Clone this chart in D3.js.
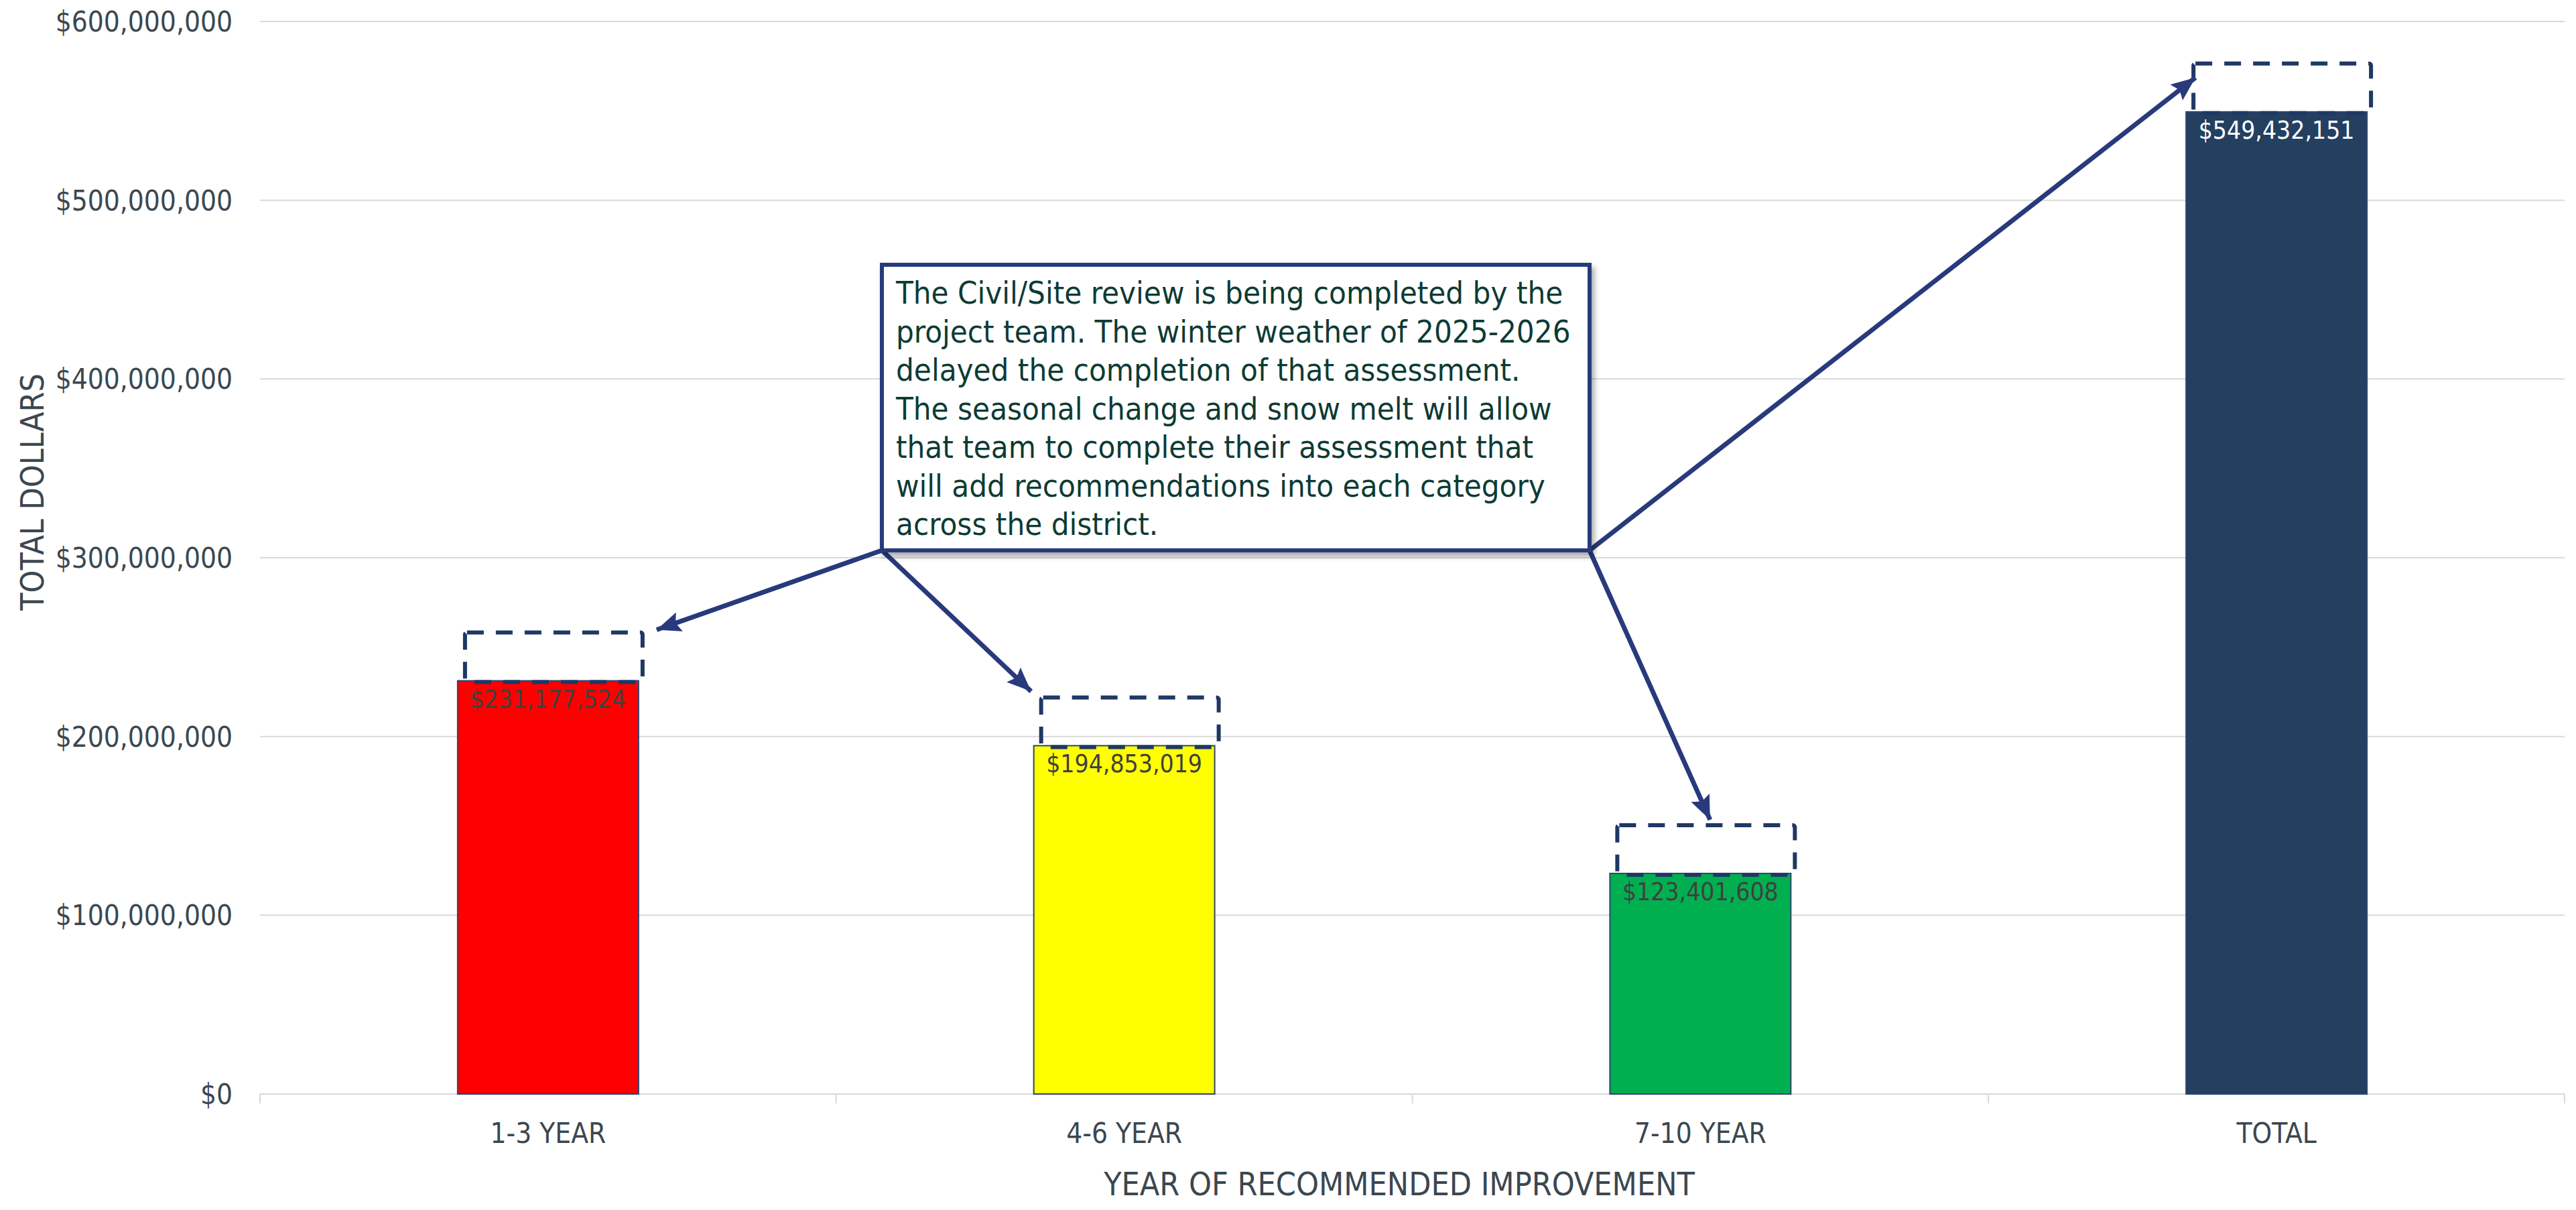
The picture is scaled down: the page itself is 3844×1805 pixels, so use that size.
<!DOCTYPE html>
<html>
<head>
<meta charset="utf-8">
<script src="https://cdn.jsdelivr.net/npm/d3@7"></script>
<style>
  body { margin: 0; background: #fff; }
  text { font-family: 'DejaVu Sans Condensed', 'DejaVu Sans', sans-serif; font-stretch: condensed; }
</style>
</head>
<body>
<script>
// data
var categories = ["1-3 YEAR", "4-6 YEAR", "7-10 YEAR", "TOTAL"];
var totals = [231177524, 194853019, 123401608, 549432151];
var barColors = ["#ff0000", "#ffff00", "#00b050", "#243f60"];
var labelColors = ["#404040", "#404040", "#404040", "#ffffff"];
// dashed boxes on top of each bar (civil/site still to be added)
var pending = [27000000, 27000000, 27000000, 27000000];
var yTicks = [0, 100000000, 200000000, 300000000, 400000000, 500000000, 600000000];
var noteLines = [
  "The Civil/Site review is being completed by the",
  "project team. The winter weather of 2025-2026",
  "delayed the completion of that assessment.",
  "The seasonal change and snow melt will allow",
  "that team to complete their assessment that",
  "will add recommendations into each category",
  "across the district."
];

var W = 3844, H = 1805;
var margin = {top: 32, right: 17, bottom: 173, left: 388};
var axisColor = "#3b4750";
var navy = "#283a7c";

var svg = d3.select("body").append("svg")
  .attr("width", W)
  .attr("height", H);

var x = d3.scaleBand()
  .domain(categories)
  .range([margin.left, W - margin.right])
  .paddingInner(0.686)
  .paddingOuter(0.343);

var y = d3.scaleLinear()
  .domain([0, 600000000])
  .range([H - margin.bottom, margin.top]);

var money = d3.format("$,.0f");
var bw = x.bandwidth();

// gridlines
svg.append("g").selectAll("line").data(yTicks).enter().append("line")
  .attr("x1", margin.left).attr("x2", W - margin.right)
  .attr("y1", function(d){ return y(d); })
  .attr("y2", function(d){ return y(d); })
  .attr("stroke", "#d9d9d9")
  .attr("stroke-width", 2);

// y tick labels
svg.append("g").selectAll("text").data(yTicks).enter().append("text")
  .attr("x", margin.left - 41)
  .attr("y", function(d){ return y(d); })
  .attr("dy", "0.36em")
  .attr("text-anchor", "end")
  .attr("font-size", 42)
  .attr("fill", axisColor)
  .text(function(d){ return money(d); });

// category tick marks between bands
var bounds = d3.range(categories.length + 1).map(function(i){ return margin.left + i * x.step(); });
svg.append("g").selectAll("line").data(bounds).enter().append("line")
  .attr("x1", function(d){ return d; }).attr("x2", function(d){ return d; })
  .attr("y1", y(0)).attr("y2", y(0) + 14)
  .attr("stroke", "#d9d9d9")
  .attr("stroke-width", 2);

// x labels
svg.append("g").selectAll("text").data(categories).enter().append("text")
  .attr("x", function(d){ return x(d) + bw / 2; })
  .attr("y", y(0) + 73)
  .attr("text-anchor", "middle")
  .attr("font-size", 42)
  .attr("fill", axisColor)
  .text(function(d){ return d; });

// axis titles
svg.append("text")
  .attr("x", 2088).attr("y", y(0) + 151)
  .attr("text-anchor", "middle")
  .attr("font-size", 48)
  .attr("fill", axisColor)
  .text("YEAR OF RECOMMENDED IMPROVEMENT");

svg.append("text")
  .attr("transform", "translate(65," + 734 + ") rotate(-90)")
  .attr("text-anchor", "middle")
  .attr("font-size", 48)
  .attr("fill", axisColor)
  .text("TOTAL DOLLARS");

// bars
svg.append("g").selectAll("rect").data(totals).enter().append("rect")
  .attr("x", function(d, i){ return x(categories[i]); })
  .attr("y", function(d){ return y(d); })
  .attr("width", bw)
  .attr("height", function(d){ return y(0) - y(d); })
  .attr("fill", function(d, i){ return barColors[i]; })
  .attr("stroke", "#2f4470")
  .attr("stroke-width", 2);

// data labels
svg.append("g").selectAll("text").data(totals).enter().append("text")
  .attr("x", function(d, i){ return x(categories[i]) + bw / 2; })
  .attr("y", function(d){ return y(d) + 40; })
  .attr("text-anchor", "middle")
  .attr("font-size", 37)
  .attr("fill", function(d, i){ return labelColors[i]; })
  .text(function(d){ return money(d); });

// dashed boxes
var boxes = totals.map(function(v, i){
  return {
    x0: x(categories[i]) + 11,
    x1: x(categories[i]) + bw + 6,
    top: y(v + pending[i]),
    bot: y(v) + 2
  };
});
svg.append("g").selectAll("rect").data(boxes).enter().append("rect")
  .attr("x", function(d){ return d.x0; })
  .attr("y", function(d){ return d.top; })
  .attr("width", function(d){ return d.x1 - d.x0; })
  .attr("height", function(d){ return d.bot - d.top; })
  .attr("rx", 3)
  .attr("fill", "none")
  .attr("stroke", "#1f3864")
  .attr("stroke-width", 6)
  .attr("stroke-dasharray", "25 18");

// callout
var note = {x0: 1316, y0: 395, x1: 2372, y1: 821};

var defs = svg.append("defs");
defs.append("marker")
  .attr("id", "head")
  .attr("markerUnits", "userSpaceOnUse")
  .attr("markerWidth", 40).attr("markerHeight", 32)
  .attr("refX", 36).attr("refY", 15)
  .attr("orient", "auto")
  .append("path")
  .attr("d", "M0,0 L36,15 L0,30 L6,15 Z")
  .attr("fill", navy);

var shadow = defs.append("filter")
  .attr("id", "shadow")
  .attr("x", "-5%").attr("y", "-5%")
  .attr("width", "115%").attr("height", "120%");
shadow.append("feDropShadow")
  .attr("dx", 4).attr("dy", 6)
  .attr("stdDeviation", 4)
  .attr("flood-color", "#000")
  .attr("flood-opacity", 0.35);

var arrows = [
  {sx: note.x0, sy: note.y1, ex: boxes[0].x1 + 21, ey: boxes[0].top - 4},
  {sx: note.x0, sy: note.y1, ex: boxes[1].x0 - 15, ey: boxes[1].top - 9},
  {sx: note.x1, sy: note.y1, ex: (boxes[2].x0 + boxes[2].x1) / 2 + 6, ey: boxes[2].top - 8},
  {sx: note.x1, sy: note.y1, ex: boxes[3].x0 + 3, ey: boxes[3].top + 21}
];
svg.append("g").selectAll("line").data(arrows).enter().append("line")
  .attr("x1", function(d){ return d.sx; })
  .attr("y1", function(d){ return d.sy; })
  .attr("x2", function(d){ return d.ex; })
  .attr("y2", function(d){ return d.ey; })
  .attr("stroke", navy)
  .attr("stroke-width", 7)
  .attr("marker-end", "url(#head)");

// box
svg.append("rect")
  .attr("x", note.x0).attr("y", note.y0)
  .attr("width", note.x1 - note.x0).attr("height", note.y1 - note.y0)
  .attr("fill", "#fff")
  .attr("stroke", navy)
  .attr("stroke-width", 6)
  .attr("filter", "url(#shadow)");

svg.append("g").selectAll("text").data(noteLines).enter().append("text")
  .attr("x", note.x0 + 21)
  .attr("y", function(d, i){ return 453 + i * 57.5; })
  .attr("font-size", 47)
  .attr("fill", "#0d3b34")
  .text(function(d){ return d; });
</script>
</body>
</html>
